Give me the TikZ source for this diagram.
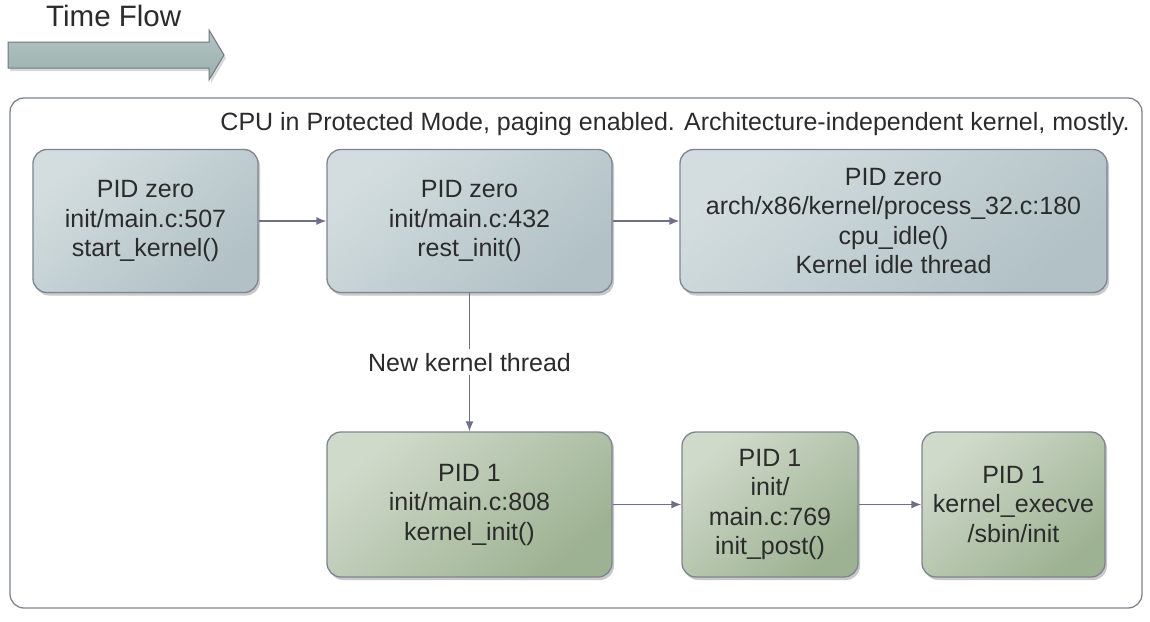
\documentclass[tikz,border=0pt]{standalone}
\usepackage{fontspec}
\setmainfont{Liberation Sans}
\usetikzlibrary{shadows,arrows.meta}

\definecolor{topA}{HTML}{D3DDDF}
\definecolor{topB}{HTML}{B1C1C5}
\definecolor{botA}{HTML}{D0DACB}
\definecolor{botB}{HTML}{9DB292}
\definecolor{edgec}{HTML}{7E8491}
\definecolor{connc}{HTML}{6C7088}
\definecolor{txtc}{HTML}{2B2B2B}
\definecolor{tfA}{HTML}{B2C4C2}
\definecolor{tfB}{HTML}{9BB0AF}

\tikzset{
  box/.style={draw=edgec, line width=1.3pt, rounded corners=14pt, align=center,
    inner sep=0pt, font=\fontsize{25}{29.5}\selectfont, text=txtc,
    drop shadow={shadow xshift=2pt, shadow yshift=-3pt, opacity=0.3, fill=black!70}},
  topbox/.style={box, top color=topA, bottom color=topB, shading angle=40},
  botbox/.style={box, top color=botA, bottom color=botB, shading angle=40},
  conn/.style={draw=connc, line width=1.3pt, -{Latex[length=10pt,width=8pt]}},
  framebox/.style={draw=edgec, line width=1.3pt, rounded corners=14pt, inner sep=0pt},
  lbl/.style={font=\fontsize{25}{29}\selectfont, text=txtc, inner sep=0pt},
}

\begin{document}
\begin{tikzpicture}[x=1pt,y=-1pt]
  \useasboundingbox[fill=white] (0,0) rectangle (1150,621);

  % time flow arrow
  \fill[black!60, opacity=0.25] (10,45) -- (211,45) -- (211,33) -- (226,58) -- (211,83) -- (211,71) -- (10,71) -- cycle;
  \draw[draw=edgec!90!black, line width=1pt, top color=tfA, bottom color=tfB]
    (8,42) -- (209,42) -- (209,30) -- (224,55) -- (209,80) -- (209,68) -- (8,68) -- cycle;
  \node[anchor=base west, font=\fontsize{29.5}{33}\selectfont, text=txtc, inner sep=0pt] (tf) at (46,26) {Time Flow};

  % container frame
  \node[framebox, minimum width=1132pt, minimum height=510pt] (frame) at (576,353) {};
  \node[lbl, anchor=base east] (cpu) at (1130,130)
    {CPU in Protected Mode, paging enabled. Architecture-independent kernel, mostly.};

  % boxes
  \node[topbox, minimum width=225pt, minimum height=143pt] (A) at (145.5,221)
    {PID zero\\init/main.c:507\\start\_kernel()};
  \node[topbox, minimum width=285pt, minimum height=143pt] (B) at (469.5,221)
    {PID zero\\init/main.c:432\\rest\_init()};
  \node[topbox, minimum width=427pt, minimum height=143pt] (C) at (893.5,221)
    {PID zero\\arch/x86/kernel/process\_32.c:180\\cpu\_idle()\\Kernel idle thread};
  \node[botbox, minimum width=285pt, minimum height=145pt] (D) at (469.5,504.5)
    {PID 1\\init/main.c:808\\kernel\_init()};
  \node[botbox, minimum width=176pt, minimum height=145pt] (E) at (770,504.5)
    {PID 1\\init/\\main.c:769\\init\_post()};
  \node[botbox, minimum width=183pt, minimum height=145pt] (F) at (1013.5,504.5)
    {PID 1\\kernel\_execve\\/sbin/init};

  % connectors
  \draw[conn] (A) -- (B);
  \draw[conn] (B) -- (C);
  \draw[conn] (B) -- node[lbl, fill=white, inner sep=4pt] (nkt) {New kernel thread} (D);
  \draw[conn] (D) -- (E);
  \draw[conn] (E) -- (F);
\end{tikzpicture}
\end{document}
